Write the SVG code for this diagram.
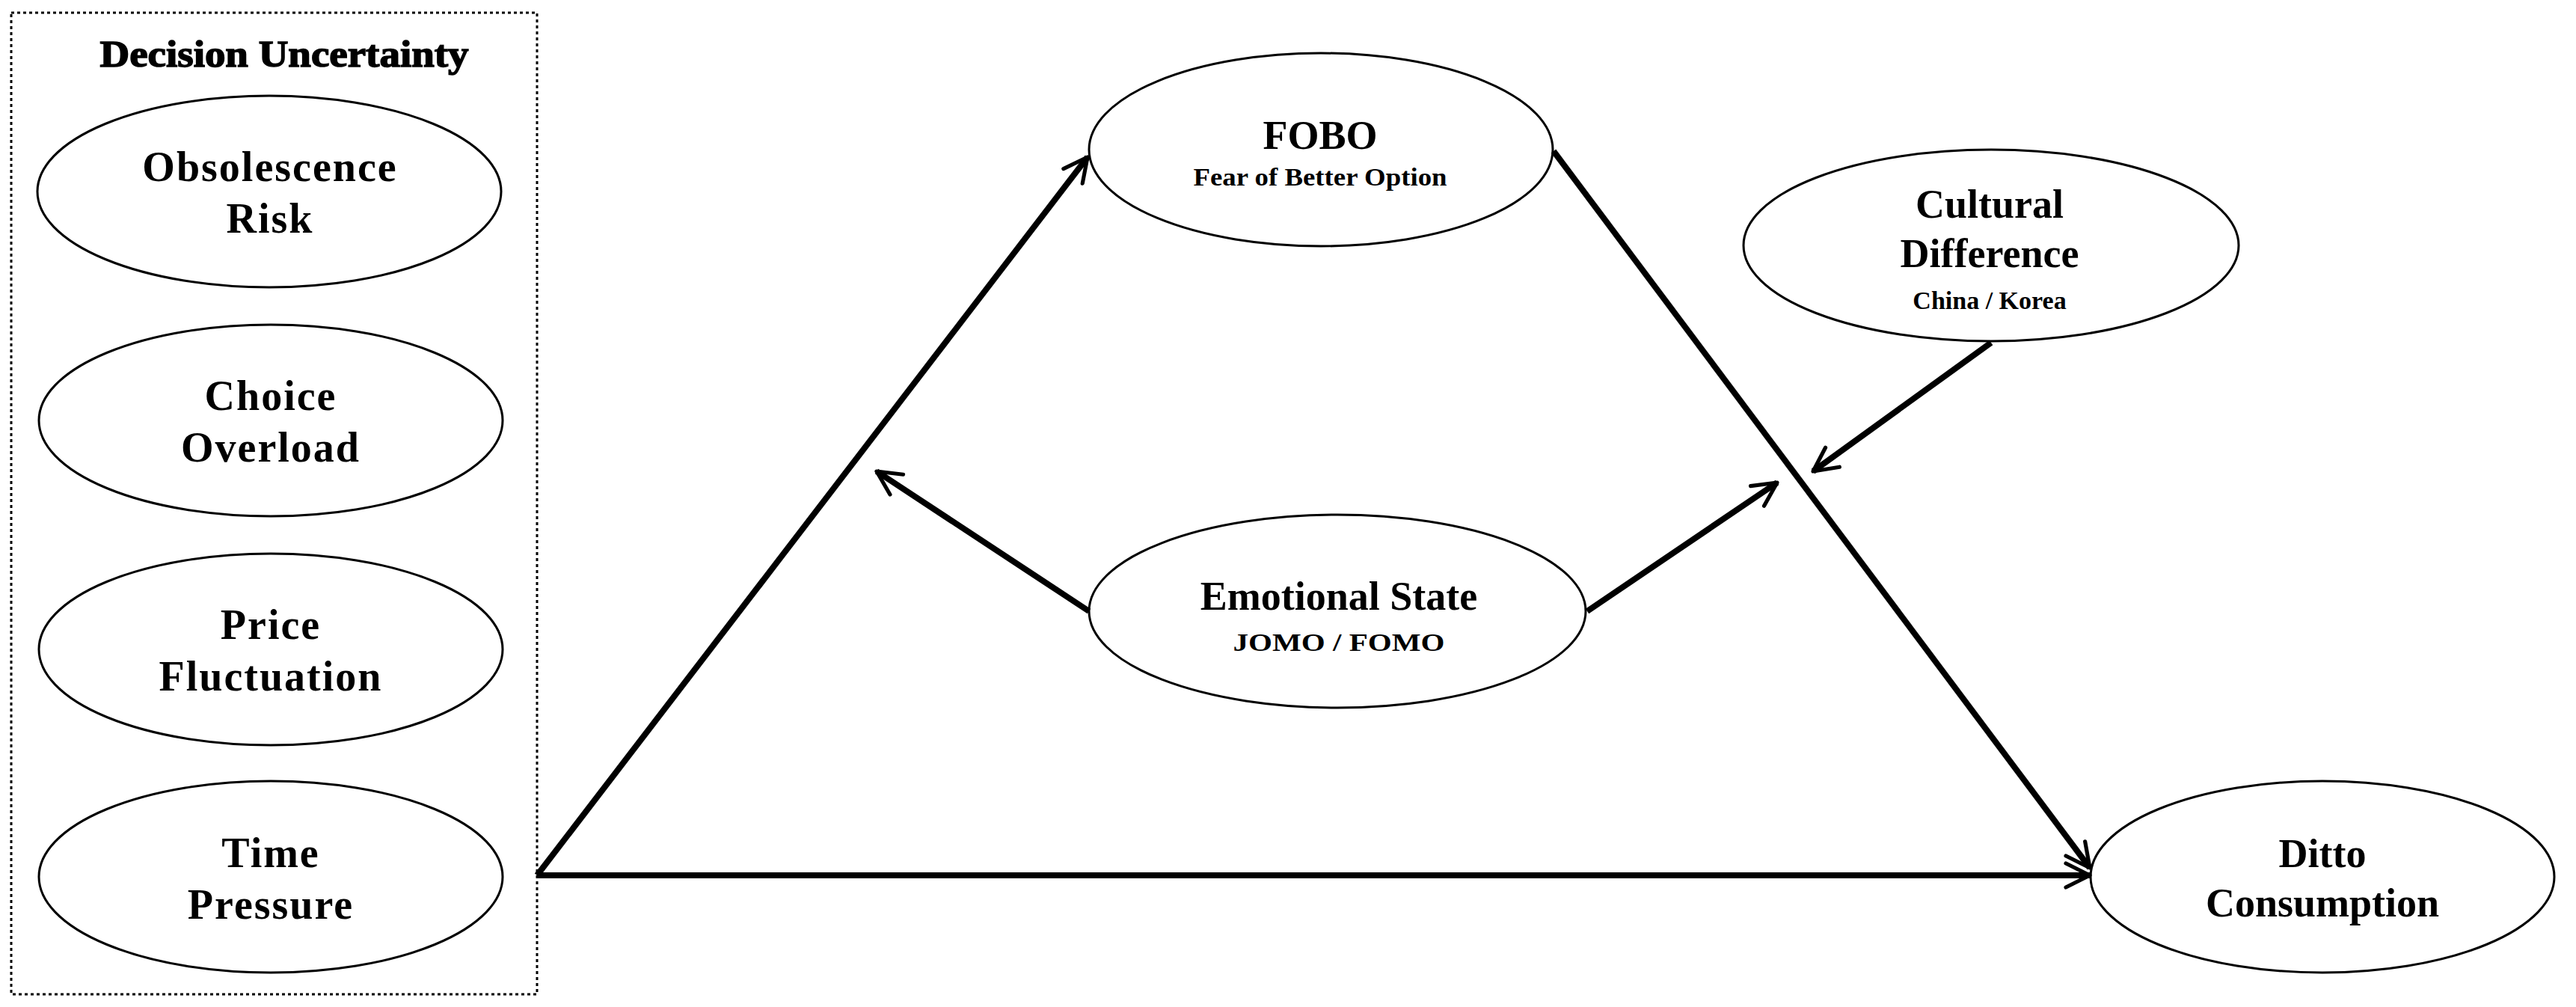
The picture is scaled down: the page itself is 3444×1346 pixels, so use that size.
<svg xmlns="http://www.w3.org/2000/svg" width="3444" height="1346" viewBox="0 0 3444 1346">
<style>
.n{fill:#fff;stroke:#000;stroke-width:3}
.t{font-family:"Liberation Serif",serif;font-weight:bold;text-anchor:middle;fill:#000}
.b{font-size:56px;letter-spacing:2px}
.m{font-size:54px}
.s{font-size:34px}
.c{fill:none;stroke:#000;stroke-width:8;marker-end:url(#ah)}
</style>
<defs>
<marker id="ah" viewBox="0 0 10 10" refX="9" refY="5" markerWidth="5" markerHeight="5" orient="auto" markerUnits="strokeWidth">
<path d="M1,1 L9,5 L1,9" fill="none" stroke="#000" stroke-width="1.3" stroke-linecap="round" stroke-linejoin="round"/>
</marker>
</defs>
<rect width="3444" height="1346" fill="#fff"/>
<g id="decision-uncertainty">
<rect x="15" y="17" width="703" height="1312" fill="none" stroke="#000" stroke-width="3" stroke-dasharray="4,4"/>
<text class="t" x="380" y="89" font-size="50" textLength="493" lengthAdjust="spacingAndGlyphs" stroke="#000" stroke-width="1.5">Decision Uncertainty</text>
</g>
<g id="obsolescence"><ellipse class="n" cx="360" cy="256" rx="310" ry="128"/><text class="t b" x="361" y="242">Obsolescence</text><text class="t b" x="361" y="311">Risk</text></g>
<g id="choice"><ellipse class="n" cx="362" cy="562" rx="310" ry="128"/><text class="t b" x="362" y="548">Choice</text><text class="t b" x="362" y="617">Overload</text></g>
<g id="price"><ellipse class="n" cx="362" cy="868" rx="310" ry="128"/><text class="t b" x="362" y="854">Price</text><text class="t b" x="362" y="923">Fluctuation</text></g>
<g id="time"><ellipse class="n" cx="362" cy="1172" rx="310" ry="128"/><text class="t b" x="362" y="1159">Time</text><text class="t b" x="362" y="1228">Pressure</text></g>
<g id="fobo"><ellipse class="n" cx="1766" cy="200" rx="310" ry="129"/><text class="t m" x="1765" y="199">FOBO</text><text class="t s" x="1765" y="248" textLength="339" lengthAdjust="spacingAndGlyphs">Fear of Better Option</text></g>
<g id="cultural"><ellipse class="n" cx="2662" cy="328" rx="331" ry="128"/><text class="t m" x="2660" y="291">Cultural</text><text class="t m" x="2660" y="357">Difference</text><text class="t s" x="2660" y="413">China / Korea</text></g>
<g id="emotional"><ellipse class="n" cx="1788" cy="817" rx="332" ry="129"/><text class="t m" x="1790" y="815">Emotional State</text><text class="t s" x="1790" y="870" textLength="283" lengthAdjust="spacingAndGlyphs">JOMO / FOMO</text></g>
<g id="ditto"><ellipse class="n" cx="3105" cy="1172" rx="310" ry="128"/><text class="t m" x="3105" y="1159">Ditto</text><text class="t m" x="3105" y="1225">Consumption</text></g>
<g id="connectors">
<path class="c" d="M718,1170 L2794,1170"/>
<path class="c" d="M718,1170 L1454,210"/>
<path class="c" d="M2077,202 L2794,1160"/>
<path class="c" d="M2662,458 L2424,630"/>
<path class="c" d="M2122,817 L2376,645"/>
<path class="c" d="M1456,817 L1172,630"/>
</g>
</svg>
